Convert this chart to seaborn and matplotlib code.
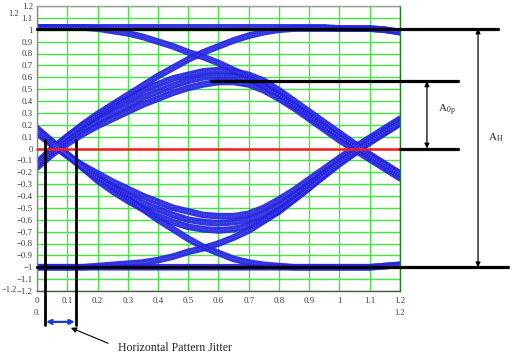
import numpy as np
import pandas as pd
import matplotlib
matplotlib.use("Agg")
import matplotlib.pyplot as plt
import seaborn as sns

# ---------------- data ----------------
X = [0.00, 0.05, 0.10, 0.15, 0.20, 0.25, 0.30, 0.35, 0.40, 0.45, 0.50, 0.55, 0.60,
     0.65, 0.70, 0.75, 0.80, 0.85, 0.90, 0.95, 1.00, 1.05, 1.10, 1.15, 1.20]

hold_hi = [1.02, 1.02, 1.02, 1.02, 1.02, 1.02, 1.02, 1.02, 1.02, 1.02, 1.02, 1.02, 1.02,
           1.02, 1.02, 1.02, 1.02, 1.02, 1.02, 1.02, 1.01, 1.01, 1.01, 1.00, 0.98]
rise_hi = [-0.14, -0.02, 0.10, 0.20, 0.29, 0.37, 0.45, 0.53, 0.61, 0.68, 0.75, 0.81, 0.86,
           0.91, 0.95, 0.98, 1.00, 1.01, 1.01, 1.01, 1.01, 1.01, 1.01, 1.00, 0.98]
fall_hi = [1.02, 1.02, 1.02, 1.02, 1.01, 0.99, 0.97, 0.94, 0.90, 0.86, 0.81, 0.77, 0.72,
           0.66, 0.60, 0.52, 0.45, 0.36, 0.27, 0.18, 0.10, 0.02, -0.06, -0.14, -0.22]
peak_c = [-0.12, 0.00, 0.10, 0.19, 0.27, 0.35, 0.42, 0.49, 0.54, 0.59, 0.62, 0.65, 0.66,
          0.65, 0.62, 0.57, 0.49, 0.40, 0.31, 0.22, 0.13, 0.04, -0.05, -0.13, -0.21]
peak_b = [-0.14, -0.03, 0.07, 0.15, 0.23, 0.30, 0.36, 0.43, 0.48, 0.53, 0.57, 0.60, 0.61,
          0.61, 0.58, 0.53, 0.45, 0.37, 0.28, 0.19, 0.10, 0.02, -0.07, -0.15, -0.23]
peak_a = [-0.16, -0.05, 0.04, 0.12, 0.19, 0.25, 0.31, 0.37, 0.42, 0.47, 0.51, 0.54, 0.56,
          0.56, 0.54, 0.49, 0.42, 0.34, 0.25, 0.16, 0.07, -0.01, -0.09, -0.17, -0.25]

hold_lo = [-1.00, -1.00, -1.00, -1.00, -1.00, -1.00, -1.00, -1.00, -1.00, -1.00, -1.00, -1.00, -1.00,
           -1.00, -1.00, -1.00, -1.00, -1.00, -1.00, -1.00, -1.00, -1.00, -1.00, -0.99, -0.98]
fall_lo = [0.15, 0.05, -0.05, -0.15, -0.24, -0.33, -0.42, -0.51, -0.60, -0.68, -0.76, -0.83, -0.88,
           -0.93, -0.96, -0.98, -0.99, -1.00, -1.00, -1.00, -1.00, -1.00, -1.00, -0.99, -0.98]
rise_lo = [-1.00, -1.00, -1.00, -1.00, -0.99, -0.98, -0.97, -0.96, -0.94, -0.91, -0.87, -0.84, -0.80,
           -0.75, -0.69, -0.61, -0.53, -0.43, -0.33, -0.22, -0.12, -0.03, 0.06, 0.14, 0.22]
trough_a = [0.13, 0.03, -0.06, -0.14, -0.21, -0.28, -0.34, -0.40, -0.45, -0.50, -0.53, -0.56, -0.57,
            -0.57, -0.55, -0.50, -0.43, -0.35, -0.26, -0.17, -0.08, 0.01, 0.09, 0.17, 0.25]
trough_b = [0.15, 0.04, -0.06, -0.16, -0.25, -0.32, -0.39, -0.46, -0.51, -0.56, -0.60, -0.62, -0.63,
            -0.62, -0.60, -0.55, -0.48, -0.39, -0.30, -0.20, -0.11, -0.02, 0.07, 0.15, 0.23]
trough_c = [0.17, 0.06, -0.05, -0.16, -0.27, -0.36, -0.44, -0.51, -0.57, -0.62, -0.66, -0.68, -0.69,
            -0.68, -0.65, -0.60, -0.52, -0.43, -0.33, -0.23, -0.13, -0.04, 0.05, 0.13, 0.21]

traces = {
    "hold_hi": hold_hi, "rise_hi": rise_hi, "fall_hi": fall_hi,
    "peak_a": peak_a, "peak_b": peak_b, "peak_c": peak_c,
    "hold_lo": hold_lo, "fall_lo": fall_lo, "rise_lo": rise_lo,
    "trough_a": trough_a, "trough_b": trough_b, "trough_c": trough_c,
}

x_ticks = [0.0, 0.1, 0.2, 0.3, 0.4, 0.5, 0.6, 0.7, 0.8, 0.9, 1.0, 1.1, 1.2]
x_tick_labels = ["0", "0.1", "0.2", "0.3", "0.4", "0.5", "0.6", "0.7", "0.8", "0.9", "1", "1.1", "1.2"]
y_ticks = [-1.2, -1.1, -1.0, -0.9, -0.8, -0.7, -0.6, -0.5, -0.4, -0.3, -0.2, -0.1, 0.0,
           0.1, 0.2, 0.3, 0.4, 0.5, 0.6, 0.7, 0.8, 0.9, 1.0, 1.1, 1.2]
y_tick_labels = ["\u22121.2", "\u22121.1", "\u22121", "\u22120.9", "\u22120.8", "\u22120.7", "\u22120.6",
                 "\u22120.5", "\u22120.4", "\u22120.3", "\u22120.2", "\u22120.1", "0",
                 "0.1", "0.2", "0.3", "0.4", "0.5", "0.6", "0.7", "0.8", "0.9", "1", "1.1", "1.2"]

level_hi = 1.01
level_mid = 0.565
level_zero = 0.0
level_lo = -1.0

# ---------------- figure ----------------
sns.set_style("white")
plt.rcParams["font.family"] = ["Liberation Serif", "DejaVu Serif"]
plt.rcParams["mathtext.fontset"] = "custom"
plt.rcParams["mathtext.rm"] = "Liberation Serif"
plt.rcParams["mathtext.it"] = "Liberation Serif"

fig = plt.figure(figsize=(5.3, 3.6), dpi=100)
ax = fig.add_axes([37 / 530, 1 - 291 / 360, 363 / 530, 285 / 360])

ax.set_xlim(0, 1.2)
ax.set_ylim(-1.2, 1.2)
ax.set_xticks(x_ticks)
ax.set_xticklabels(x_tick_labels)
ax.set_yticks(y_ticks)
ax.set_yticklabels(y_tick_labels)
ax.tick_params(axis="both", length=0, labelsize=6.3, colors="#3a3a3a")
ax.tick_params(axis="x", pad=4)
ax.tick_params(axis="y", pad=3)
ax.grid(True, color="#44e644", linewidth=1.0, zorder=0)
ax.set_axisbelow(True)
ax.spines["top"].set_color("#9a9a9a")
ax.spines["left"].set_color("#8a8a8a")
ax.spines["bottom"].set_color("#555555")
ax.spines["right"].set_color("#1e7a1e")
for s in ax.spines.values():
    s.set_linewidth(1.0)

df = pd.concat(
    [pd.DataFrame({"x": X, "y": v, "trace": k}) for k, v in traces.items()],
    ignore_index=True,
)
blue = "#2424e2"
# solid body of each trace band
sns.lineplot(data=df, x="x", y="y", units="trace", estimator=None, color=blue,
             linewidth=4.8, sort=False, ax=ax, legend=False, zorder=2, alpha=0.92)
# light speckle texture of the sampled traces
sns.lineplot(data=df, x="x", y="y", units="trace", estimator=None, color="white",
             linewidth=0.6, sort=False, ax=ax, legend=False, zorder=3, alpha=0.25,
             linestyle=(0, (1.0, 2.0)))
ax.set_xlabel("")
ax.set_ylabel("")

# reference levels
ax.plot([0, 1.524], [level_hi, level_hi], color="black", lw=2.3, clip_on=False, zorder=4)
ax.plot([0.575, 1.392], [level_mid, level_mid], color="black", lw=2.3, clip_on=False, zorder=4)
ax.plot([0, 1.2], [level_zero, level_zero], color="#ff1a1a", lw=1.8, clip_on=False, zorder=4)
ax.plot([1.2, 1.392], [level_zero, level_zero], color="black", lw=2.3, clip_on=False, zorder=4)
ax.plot([0, 1.557], [level_lo, level_lo], color="black", lw=2.3, clip_on=False, zorder=4)

# jitter markers
ax.plot([0.026, 0.026], [0.07, -1.49], color="black", lw=2.0, clip_on=False, zorder=5)
ax.plot([0.129, 0.129], [0.07, -1.49], color="black", lw=2.0, clip_on=False, zorder=5)
ax.annotate("", xy=(0.03, -1.46), xytext=(0.125, -1.46), annotation_clip=False,
            arrowprops=dict(arrowstyle="<|-|>", color="#1a3ad8", lw=1.6,
                            mutation_scale=7, shrinkA=0, shrinkB=0))
ax.annotate("", xy=(0.112, -1.51), xytext=(0.235, -1.64), annotation_clip=False,
            arrowprops=dict(arrowstyle="-|>", color="black", lw=0.8,
                            mutation_scale=8, shrinkA=0, shrinkB=0))
ax.text(0.268, -1.68, "Horizontal Pattern Jitter", fontsize=8.5, ha="left", va="center",
        clip_on=False)

# amplitude arrows
ax.annotate("", xy=(1.289, level_mid), xytext=(1.289, level_zero), annotation_clip=False,
            arrowprops=dict(arrowstyle="<|-|>", color="black", lw=0.9,
                            mutation_scale=7, shrinkA=0, shrinkB=0))
ax.text(1.326, 0.32, "A$_{\\mathrm{0p}}$", fontsize=8, ha="left", va="center", clip_on=False)
ax.annotate("", xy=(1.458, level_hi), xytext=(1.458, level_lo), annotation_clip=False,
            arrowprops=dict(arrowstyle="<|-|>", color="black", lw=0.9,
                            mutation_scale=7, shrinkA=0, shrinkB=0))
ax.text(1.49, 0.09, "A$_{\\mathrm{H}}$", fontsize=8, ha="left", va="center", clip_on=False)

# Mathcad-style axis limit labels
small = dict(fontsize=6.0, color="#3a3a3a", clip_on=False)
ax.text(-0.079, 1.133, "1.2", ha="center", va="center", **small)
ax.text(-0.092, -1.19, "\u22121.2", ha="center", va="center", **small)
ax.text(0.0, -1.385, "0.", ha="center", va="center", **small)
ax.text(1.2, -1.385, "1.2", ha="center", va="center", **small)

fig.savefig("out.png", dpi=100, facecolor="white")
